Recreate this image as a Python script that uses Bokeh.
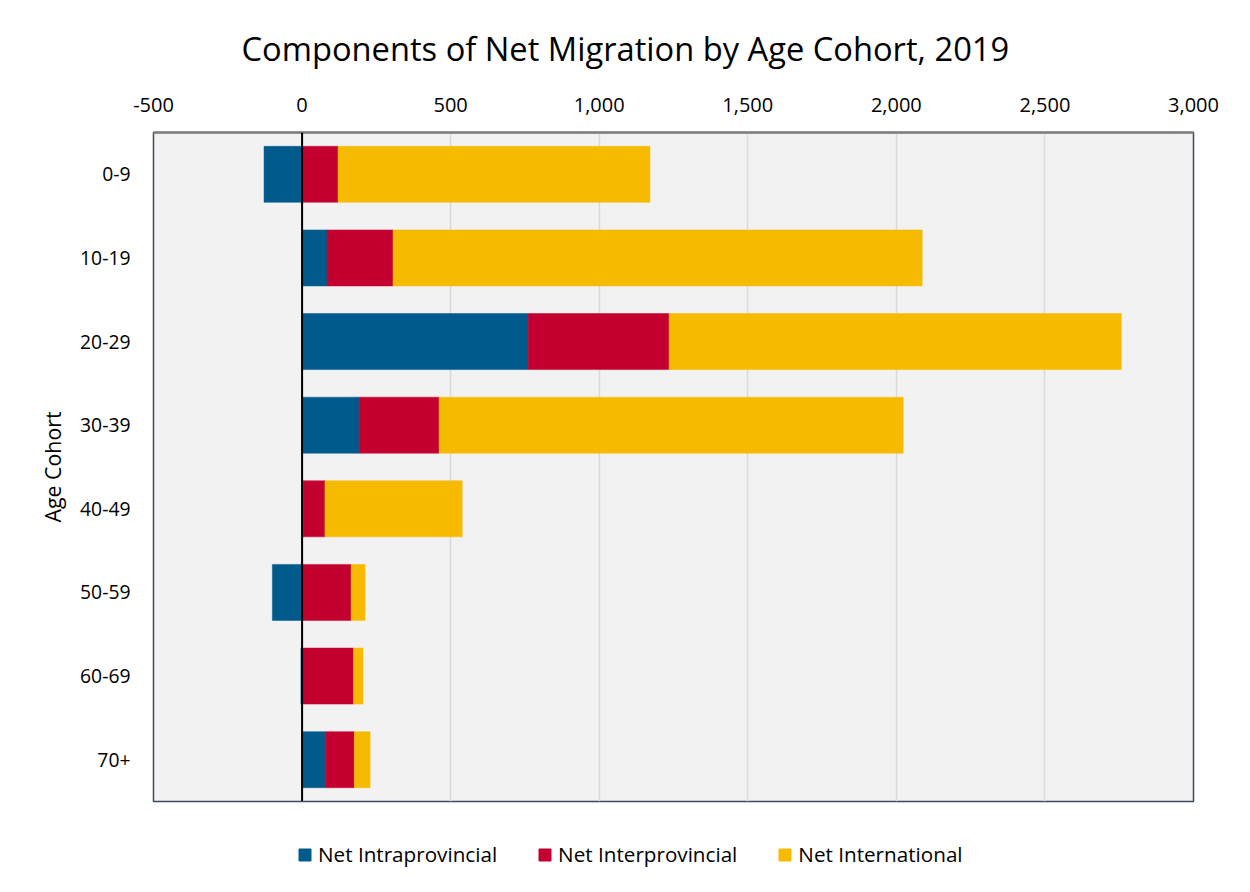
from bokeh.plotting import figure
from bokeh.layouts import column
from bokeh.models import (FactorRange, Range1d, NumeralTickFormatter, FixedTicker, Span, Legend,
                          LegendItem, ColumnDataSource)
from bokeh.embed import file_html
from bokeh.resources import INLINE

cohorts = ["0-9", "10-19", "20-29", "30-39", "40-49", "50-59", "60-69", "70+"]
intraprovincial = [-128, 84, 761, 192, 6, -100, -4, 78]
interprovincial = [121, 222, 474, 269, 71, 165, 173, 98]
international = [1050, 1781, 1522, 1562, 462, 47, 32, 53]
series_names = ["Net Intraprovincial", "Net Interprovincial", "Net International"]
colors = ["#005A8C", "#C3002F", "#F6BB00"]
x_ticks = [-500, 0, 500, 1000, 1500, 2000, 2500, 3000]

FONT = "Open Sans"

p = figure(width=1234, height=803, output_backend="svg", toolbar_location=None,
           y_range=FactorRange(factors=list(reversed(cohorts))),
           x_range=Range1d(-500, 3000), x_axis_location="above",
           min_border_left=153, min_border_right=41, min_border_top=129, min_border_bottom=2)

p.title.text = "Components of Net Migration by Age Cohort, 2019"
p.title.align = "left"
p.title.text_font = FONT
p.title.text_font_size = "24.5pt"
p.title.text_font_style = "normal"
p.title.text_color = "#000000"
p.title.offset = 88
p.title.standoff = 47

p.background_fill_color = "#F2F2F2"
p.border_fill_color = "#FFFFFF"
p.outline_line_color = "#3C4B5E"
p.outline_line_width = 1.5

# stacking (positive and negative stacks separately)
pos_base = [0.0] * len(cohorts)
neg_base = [0.0] * len(cohorts)
for name, vals, col in zip(series_names, [intraprovincial, interprovincial, international], colors):
    lefts, rights = [], []
    for i, v in enumerate(vals):
        if v >= 0:
            lefts.append(pos_base[i]); rights.append(pos_base[i] + v); pos_base[i] += v
        else:
            rights.append(neg_base[i]); lefts.append(neg_base[i] + v); neg_base[i] += v
    src = ColumnDataSource(dict(y=cohorts, left=lefts, right=rights))
    p.hbar(y="y", left="left", right="right", height=0.67, source=src,
           fill_color=col, line_color=col, line_width=0.5)

p.add_layout(Span(location=0, dimension="height", line_color="#000000", line_width=2))

xa = p.xaxis[0]
xa.ticker = FixedTicker(ticks=x_ticks)
xa.formatter = NumeralTickFormatter(format="0,0")
xa.major_label_text_font = FONT
xa.major_label_text_font_size = "15pt"
xa.major_label_text_color = "#000000"
xa.major_tick_line_color = None
xa.minor_tick_line_color = None
xa.axis_line_color = "#7F7F7F"
xa.axis_line_width = 2.5
xa.major_label_standoff = 15

ya = p.yaxis[0]
ya.axis_label = "Age Cohort"
ya.axis_label_text_font = FONT
ya.axis_label_text_font_size = "16pt"
ya.axis_label_text_font_style = "normal"
ya.axis_label_text_color = "#000000"
ya.axis_label_standoff = 10
ya.major_label_text_font = FONT
ya.major_label_text_font_size = "14.5pt"
ya.major_label_text_color = "#000000"
ya.major_tick_line_color = None
ya.axis_line_color = None
ya.major_label_standoff = 17

p.xgrid.grid_line_color = "#D9D9D9"
p.xgrid.grid_line_width = 1.5
p.ygrid.grid_line_color = None

# legend strip below the chart (proxy renderers with NaN data, nothing drawn)
nan = float("nan")
lg = figure(width=1234, height=73, output_backend="svg", toolbar_location=None,
            x_range=Range1d(0, 1), y_range=Range1d(0, 1), x_axis_type=None, y_axis_type=None,
            min_border=0, outline_line_color=None, background_fill_color="#FFFFFF",
            border_fill_color="#FFFFFF")
lg.xgrid.visible = False
lg.ygrid.visible = False
items = []
for name, col in zip(series_names, colors):
    r = lg.hbar(y=[nan], left=[nan], right=[nan], height=0.5, fill_color=col, line_color=col)
    items.append(LegendItem(label=name, renderers=[r]))
legend = Legend(items=items, orientation="horizontal", location=(144, 8),
                label_text_font=FONT, label_text_font_size="15.5pt", label_text_color="#000000",
                glyph_width=15, glyph_height=15, spacing=40, label_standoff=6,
                border_line_color=None, background_fill_alpha=0, margin=0, padding=0)
lg.add_layout(legend, "center")

open("out.html", "w").write(file_html(column(p, lg, spacing=0), INLINE))
